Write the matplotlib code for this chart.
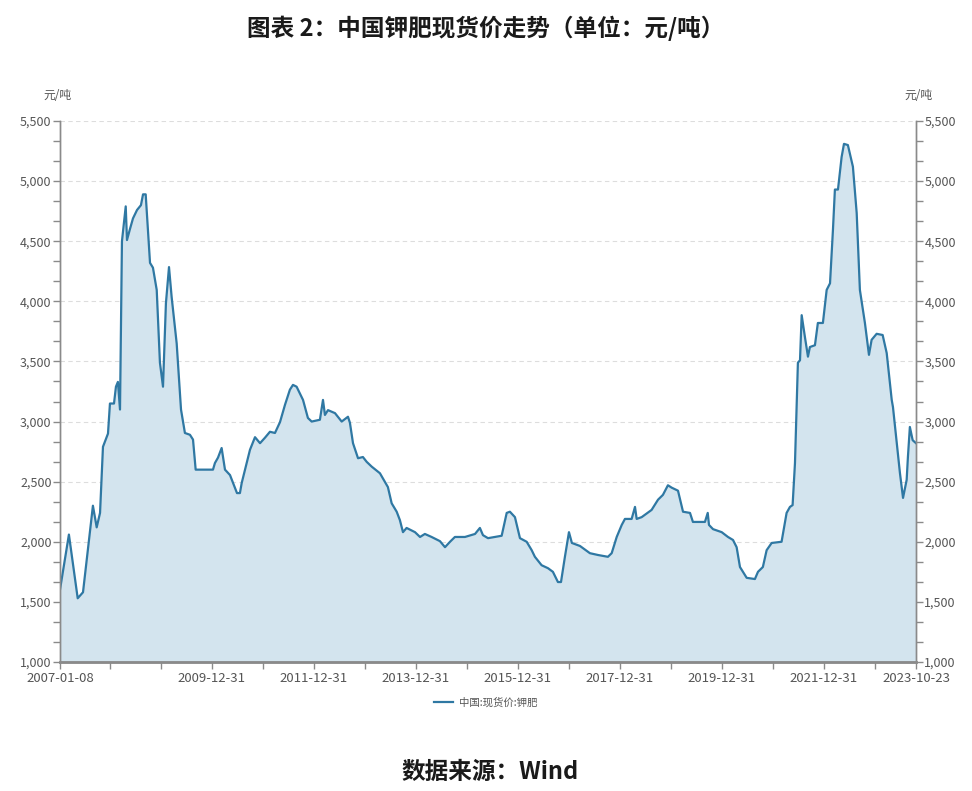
import matplotlib
matplotlib.use("Agg")
import matplotlib.pyplot as plt
import matplotlib.dates as mdates
import numpy as np
import pandas as pd

plt.rcParams['font.family'] = ['Noto Sans CJK SC', 'DejaVu Sans']

# 中国:现货价:钾肥 (元/吨)
dates = [
    "2007-01-08", "2007-03-13", "2007-05-15", "2007-06-22", "2007-09-01", "2007-09-28",
    "2007-10-22", "2007-11-12", "2007-12-18", "2008-01-01", "2008-01-30", "2008-02-13",
    "2008-02-27", "2008-03-13", "2008-03-27", "2008-04-23", "2008-05-02", "2008-05-23",
    "2008-06-14", "2008-07-13", "2008-08-10", "2008-08-25", "2008-09-13", "2008-10-14",
    "2008-11-04", "2008-12-01", "2008-12-24", "2009-01-15", "2009-02-05", "2009-02-27",
    "2009-03-18", "2009-04-23", "2009-05-24", "2009-06-21", "2009-07-27", "2009-08-18",
    "2009-09-06", "2010-01-08", "2010-01-22", "2010-02-13", "2010-03-11", "2010-04-04",
    "2010-05-10", "2010-06-29", "2010-07-20", "2010-08-02", "2010-09-30", "2010-11-05",
    "2010-12-11", "2011-01-15", "2011-02-20", "2011-03-28", "2011-05-03", "2011-06-08",
    "2011-07-13", "2011-08-04", "2011-08-30", "2011-10-15", "2011-11-19", "2011-12-16",
    "2012-02-13", "2012-03-06", "2012-03-20", "2012-04-11", "2012-05-31", "2012-07-18",
    "2012-09-01", "2012-09-15", "2012-10-07", "2012-11-12", "2012-12-17", "2013-01-13",
    "2013-02-18", "2013-04-18", "2013-06-14", "2013-07-11", "2013-08-16", "2013-09-08",
    "2013-09-30", "2013-10-26", "2013-12-25", "2014-01-30", "2014-03-06", "2014-04-23",
    "2014-06-22", "2014-07-28", "2014-09-02", "2014-10-07", "2014-12-18", "2015-02-28",
    "2015-04-04", "2015-04-26", "2015-06-01", "2015-07-21", "2015-09-07", "2015-10-13",
    "2015-11-05", "2015-12-11", "2016-01-16", "2016-03-04", "2016-04-09", "2016-05-02",
    "2016-06-19", "2016-08-04", "2016-09-08", "2016-10-14", "2016-11-05", "2016-12-03",
    "2017-01-01", "2017-01-22", "2017-03-21", "2017-05-31", "2017-07-28", "2017-10-07",
    "2017-11-03", "2017-12-09", "2018-01-14", "2018-02-06", "2018-03-26", "2018-04-19",
    "2018-05-01", "2018-06-06", "2018-08-16", "2018-10-01", "2018-11-05", "2018-12-11",
    "2019-01-07", "2019-02-21", "2019-03-29", "2019-05-18", "2019-06-08", "2019-09-02",
    "2019-09-22", "2019-10-01", "2019-10-30", "2019-12-31", "2020-02-14", "2020-03-21",
    "2020-04-16", "2020-05-10", "2020-06-27", "2020-08-25", "2020-09-16", "2020-10-21",
    "2020-11-17", "2020-12-23", "2021-03-04", "2021-04-09", "2021-05-03", "2021-05-22",
    "2021-06-08", "2021-06-29", "2021-07-14", "2021-07-26", "2021-08-18", "2021-09-09",
    "2021-09-23", "2021-10-29", "2021-11-19", "2021-12-25", "2022-01-21", "2022-02-14",
    "2022-03-07", "2022-03-21", "2022-04-12", "2022-05-08", "2022-05-25", "2022-06-22",
    "2022-07-28", "2022-08-24", "2022-09-16", "2022-10-22", "2022-11-20", "2022-12-09",
    "2023-01-14", "2023-02-26", "2023-03-27", "2023-05-02", "2023-05-11", "2023-06-30",
    "2023-07-22", "2023-08-17", "2023-08-26", "2023-09-09", "2023-09-29", "2023-10-23",
]
prices = [
    1600, 2060, 1530, 1580, 2300, 2120,
    2240, 2790, 2900, 3150, 3150, 3290,
    3330, 3100, 4500, 4790, 4510, 4600,
    4690, 4760, 4800, 4890, 4890, 4320,
    4280, 4095, 3490, 3290, 3985, 4285,
    4035, 3650, 3100, 2905, 2890, 2850,
    2600, 2600, 2655, 2700, 2780, 2600,
    2555, 2405, 2405, 2490, 2765, 2870,
    2820, 2865, 2915, 2905, 2995, 3140,
    3265, 3305, 3290, 3180, 3030, 3000,
    3015, 3180, 3055, 3095, 3070, 3000,
    3040, 2990, 2820, 2695, 2705, 2665,
    2625, 2570, 2455, 2320, 2250, 2180,
    2080, 2115, 2080, 2040, 2065, 2040,
    2005, 1955, 2000, 2040, 2040, 2065,
    2115, 2055, 2030, 2040, 2050, 2240,
    2250, 2205, 2030, 2000, 1930, 1875,
    1805, 1780, 1750, 1665, 1665, 1875,
    2080, 1990, 1965, 1905, 1890, 1875,
    1905, 2040, 2140, 2190, 2190, 2290,
    2190, 2205, 2265, 2350, 2390, 2470,
    2450, 2425, 2250, 2240, 2165, 2165,
    2240, 2140, 2105, 2080, 2040, 2015,
    1955, 1790, 1700, 1690, 1750, 1790,
    1930, 1990, 2000, 2240, 2290, 2305,
    2655, 3490, 3510, 3885, 3705, 3540,
    3620, 3635, 3820, 3820, 4095, 4150,
    4595, 4930, 4930, 5200, 5310, 5300,
    5120, 4735, 4095, 3820, 3555, 3680,
    3730, 3720, 3570, 3180, 3120, 2570,
    2365, 2515, 2705, 2955, 2845, 2820,
]

tick_dates = ["2007-01-08", "2007-12-31", "2008-12-31", "2009-12-31", "2010-12-31",
              "2011-12-31", "2012-12-31", "2013-12-31", "2014-12-31", "2015-12-31",
              "2016-12-31", "2017-12-31", "2018-12-31", "2019-12-31", "2020-12-31",
              "2021-12-31", "2022-12-31", "2023-10-23"]
labelled = ["2007-01-08", "2009-12-31", "2011-12-31", "2013-12-31", "2015-12-31",
            "2017-12-31", "2019-12-31", "2021-12-31", "2023-10-23"]
y_major = [1000, 1500, 2000, 2500, 3000, 3500, 4000, 4500, 5000, 5500]

line_color = "#2f78a3"
fill_color = "#d3e4ee"
axis_color = "#8a8a8a"
text_color = "#555555"

x = pd.to_datetime(dates)
xt = pd.to_datetime(tick_dates)

fig = plt.figure(figsize=(9.72, 7.91), dpi=100)
ax = fig.add_axes([0.0617, 0.1631, 0.8807, 0.6839])

ax.fill_between(x, prices, 1000, color=fill_color, lw=0)
line, = ax.plot(x, prices, color=line_color, lw=1.6, label="中国:现货价:钾肥")

ax.set_xlim(xt[0], xt[-1])
ax.set_ylim(1000, 5500)
ax.set_xticks(xt)
ax.set_xticklabels([d if d in labelled else "" for d in tick_dates])
ax.set_yticks(y_major)
ax.set_yticklabels([f"{v:,}" for v in y_major])
ax.set_yticks(np.arange(1000, 5501, 500 / 3), minor=True)
ax.grid(axis="y", which="major", color="#dddddd", lw=0.8, ls=(0, (4, 3)))
ax.set_axisbelow(True)

ax2 = ax.twinx()
ax2.set_ylim(1000, 5500)
ax2.set_yticks(y_major)
ax2.set_yticklabels([f"{v:,}" for v in y_major])
ax2.set_yticks(np.arange(1000, 5501, 500 / 3), minor=True)

for a in (ax, ax2):
    a.spines["top"].set_visible(False)
    for s in ("left", "right", "bottom"):
        a.spines[s].set_color(axis_color)
        a.spines[s].set_linewidth(1.0)
    a.tick_params(which="both", colors=axis_color, labelcolor=text_color,
                  labelsize=9, length=5, width=1, pad=1)
ax.spines["bottom"].set_linewidth(2.0)
ax.tick_params(axis="x", pad=2, labelsize=9.5)

ax.text(-0.003, 1.035, "元/吨", transform=ax.transAxes, ha="center", va="bottom",
        fontsize=8.5, color=text_color)
ax.text(1.003, 1.035, "元/吨", transform=ax.transAxes, ha="center", va="bottom",
        fontsize=8.5, color=text_color)

fig.legend(handles=[line], loc="center", bbox_to_anchor=(0.5, 0.112), frameon=False,
           fontsize=7.5, labelcolor=text_color, handlelength=1.8, handletextpad=0.6)

fig.text(0.5, 0.964, "图表 2：中国钾肥现货价走势（单位：元/吨）", ha="center", va="center",
         fontsize=17, fontweight="bold", color="#1a1a1a")
fig.text(0.504, 0.024, "数据来源：Wind", ha="center", va="center",
         fontsize=17, fontweight="bold", color="#1a1a1a")

fig.savefig("out.png", dpi=100)
